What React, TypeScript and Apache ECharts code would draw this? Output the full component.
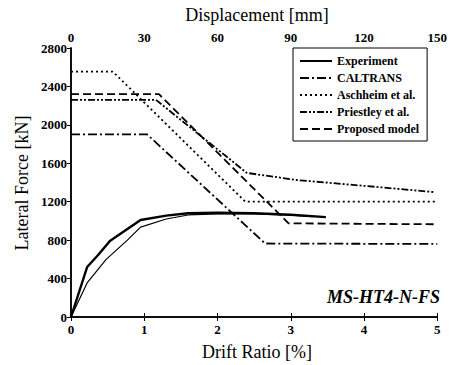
import React, { useEffect, useRef } from "react";
import * as echarts from "echarts";

const driftTicks = [0, 1, 2, 3, 4, 5];
const dispTicks = [0, 30, 60, 90, 120, 150];
const forceTicks = [0, 400, 800, 1200, 1600, 2000, 2400, 2800];

const experiment: [number, number][] = [
  [0, 0], [0.22, 520], [0.37, 645], [0.53, 790], [0.95, 1010], [1.3, 1055],
  [1.6, 1080], [2.0, 1085], [2.5, 1080], [3.0, 1065], [3.48, 1040],
];
const experimentB: [number, number][] = [
  [0, 0], [0.22, 355], [0.48, 600], [0.77, 800], [0.95, 935], [1.3, 1020],
  [1.6, 1062], [2.0, 1072], [2.5, 1074], [3.0, 1060], [3.3, 1045],
];
const caltrans: [number, number][] = [[0, 1900], [1.04, 1900], [2.65, 765], [5, 760]];
const aschheim: [number, number][] = [[0, 2555], [0.57, 2555], [2.38, 1200], [5, 1200]];
const priestley: [number, number][] = [
  [0, 2260], [1.16, 2260], [2.4, 1500], [3.08, 1426], [4.02, 1364], [4.96, 1300],
];
const proposed: [number, number][] = [[0, 2320], [1.2, 2320], [2.97, 975], [5, 965]];

const FONT = "Liberation Serif";
const TITLE_FONT = `18px "Liberation Serif"`;

export default function App() {
  const ref = useRef<HTMLDivElement>(null);
  useEffect(() => {
    document.body.style.margin = "0";
    if (!ref.current) return;
    const chart = echarts.init(ref.current, undefined, { renderer: "svg" });
    const tickLabel = { color: "#000", fontFamily: FONT, fontWeight: "bold" as const, fontSize: 13 };
    const axisLine = { show: true, lineStyle: { color: "#000", width: 1.5 } };
    const mk = (name: string, data: [number, number][], type: any, width: number) => ({
      type: "line",
      name,
      data,
      xAxisIndex: 0,
      yAxisIndex: 0,
      symbol: "none",
      lineStyle: { color: "#000", width, type },
      itemStyle: { color: "#000" },
    });
    chart.setOption({
      animation: false,
      textStyle: { fontFamily: FONT },
      grid: { left: 71, right: 7, top: 48, bottom: 48 },
      xAxis: [
        {
          type: "value", min: 0, max: 5, interval: 1, position: "bottom",
          axisLine, axisTick: { show: true, length: 4, lineStyle: { color: "#000" } },
          axisLabel: { ...tickLabel, margin: 6, formatter: (v: number) => (driftTicks.includes(v) ? String(v) : "") },
          splitLine: { show: false },
        },
        {
          type: "value", min: 0, max: 150, interval: 30, position: "top",
          axisLine, axisTick: { show: true, length: 4, lineStyle: { color: "#000" } },
          axisLabel: { ...tickLabel, margin: 4, formatter: (v: number) => (dispTicks.includes(v) ? String(v) : "") },
          splitLine: { show: false },
        },
      ],
      yAxis: [
        {
          type: "value", min: 0, max: 2800, interval: 400, position: "left",
          axisLine, axisTick: { show: true, length: 4, lineStyle: { color: "#000" } },
          axisLabel: { ...tickLabel, margin: 4, formatter: (v: number) => (forceTicks.includes(v) ? String(v) : "") },
          splitLine: { show: false },
        },
        {
          type: "value", min: 0, max: 2800, interval: 400, position: "right",
          axisLine, axisTick: { show: false }, axisLabel: { show: false }, splitLine: { show: false },
        },
      ],
      legend: {
        orient: "vertical",
        left: 293,
        top: 48,
        width: 150,
        itemWidth: 32,
        itemHeight: 10,
        itemGap: 5,
        padding: [7, 8, 6, 6],
        borderColor: "#000",
        borderWidth: 1,
        itemStyle: { opacity: 0 },
        data: ["Experiment", "CALTRANS", "Aschheim et al.", "Priestley et al.", "Proposed model"],
        textStyle: { color: "#000", fontFamily: FONT, fontWeight: "bold", fontSize: 12 },
      },
      graphic: [
        {
          type: "text",
          right: 10,
          top: 288,
          style: { text: "MS-HT4-N-FS", fill: "#000", font: `italic bold 18px "Liberation Serif"` },
        },
        {
          type: "text",
          x: 257,
          y: 15,
          style: { text: "Displacement [mm]", fill: "#000", font: TITLE_FONT, align: "center", verticalAlign: "middle" },
        },
        {
          type: "text",
          x: 257,
          y: 352,
          style: { text: "Drift Ratio [%]", fill: "#000", font: TITLE_FONT, align: "center", verticalAlign: "middle" },
        },
        {
          type: "text",
          x: 22,
          y: 183,
          rotation: Math.PI / 2,
          style: { text: "Lateral Force [kN]", fill: "#000", font: TITLE_FONT, align: "center", verticalAlign: "middle" },
        },
      ],
      series: [
        mk("Experiment", experiment, "solid", 2.4),
        { ...mk("Experiment", experimentB, "solid", 1.2) },
        mk("CALTRANS", caltrans, [9, 3, 2, 3], 1.8),
        mk("Aschheim et al.", aschheim, [2, 3], 1.8),
        mk("Priestley et al.", priestley, [7, 2, 2, 2, 2, 2], 1.8),
        mk("Proposed model", proposed, [8, 4], 1.8),
      ],
    });
    return () => chart.dispose();
  }, []);
  return <div ref={ref} style={{ width: 450, height: 365 }} />;
}
